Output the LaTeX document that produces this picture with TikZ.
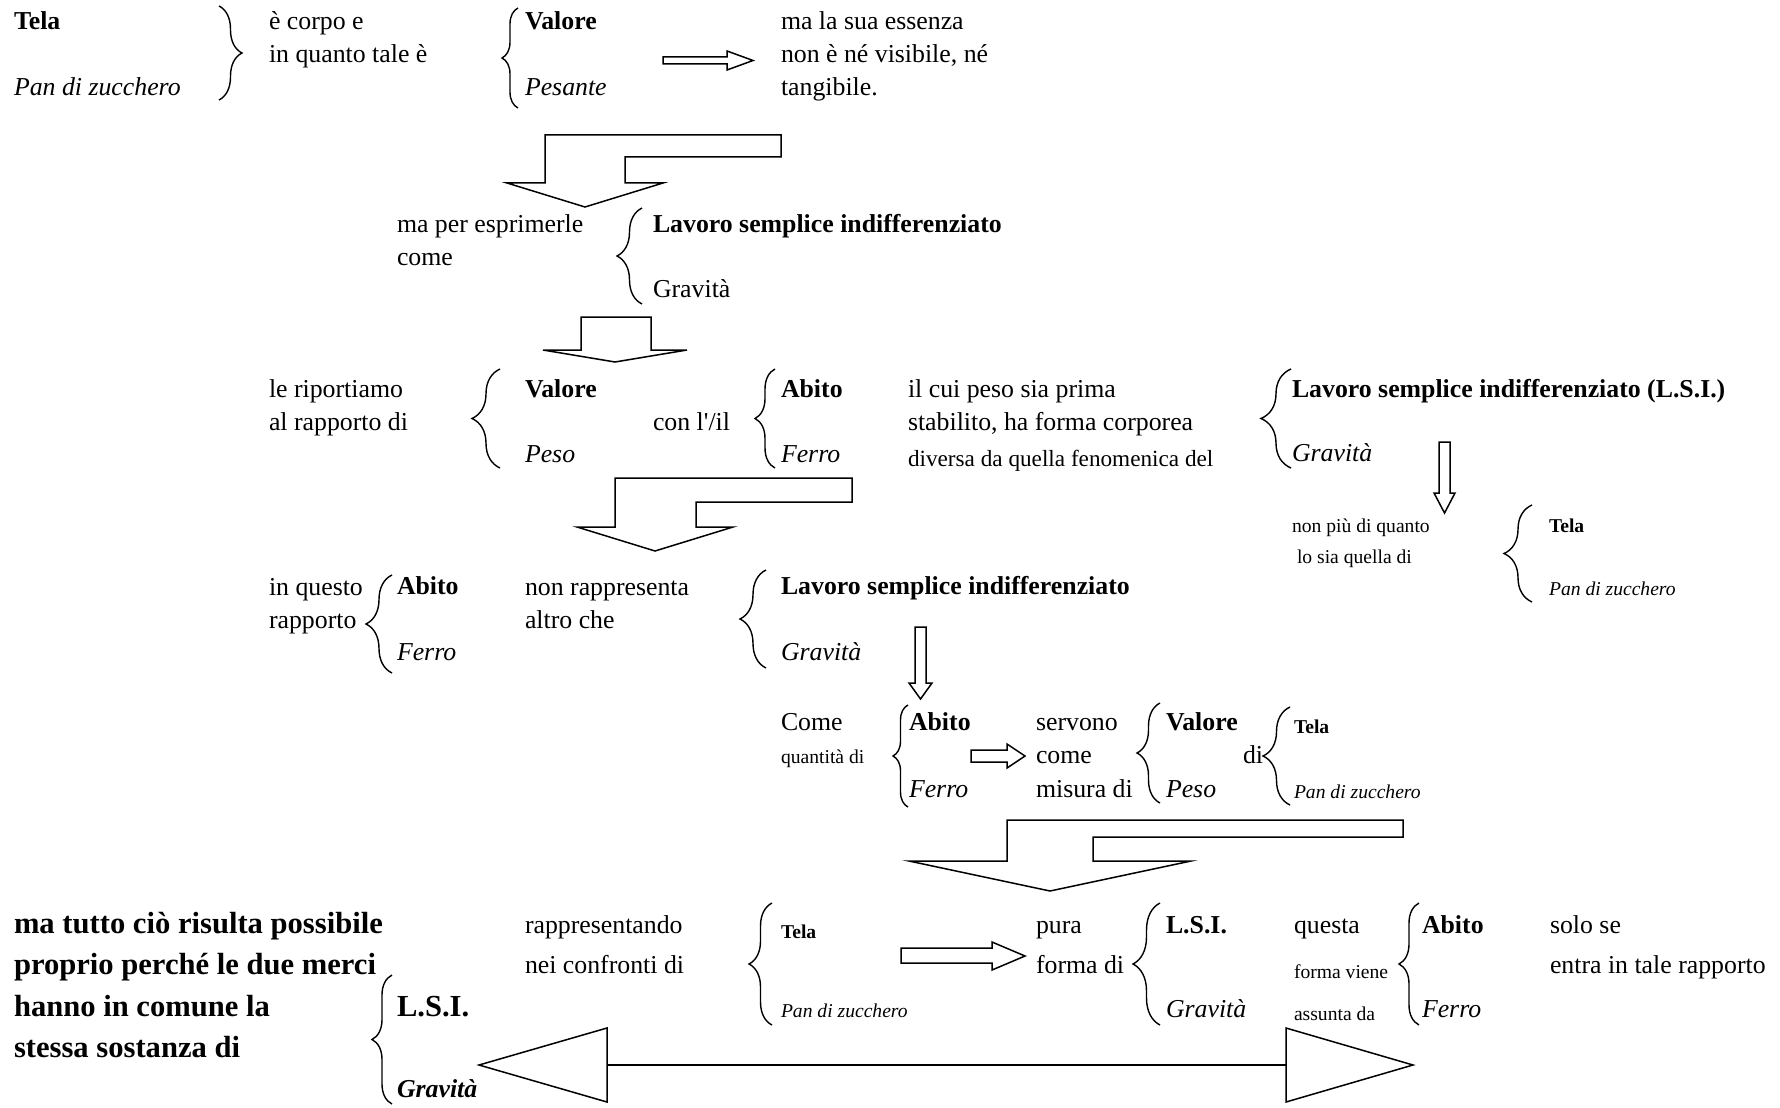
\documentclass[tikz,border=0pt]{standalone}
\usepackage{fontspec}
\setmainfont{Liberation Serif}
\usetikzlibrary{decorations.pathreplacing}
\newcommand{\strapos}{\XeTeXglyph\XeTeXglyphindex "quotesingle"\relax}
\begin{document}
\begin{tikzpicture}[x=0.5pt,y=-0.5pt,
 tbase/.style={anchor=base west, inner sep=0pt, outer sep=0pt},
 txt/.style={tbase, font=\fontsize{12.9}{15}\selectfont},
 txtb/.style={tbase, font=\fontsize{12.9}{15}\selectfont\bfseries},
 txti/.style={tbase, font=\fontsize{12.9}{15}\selectfont\itshape},
 txtbi/.style={tbase, font=\fontsize{12.9}{15}\selectfont\bfseries\itshape},
 txtmid/.style={tbase, font=\fontsize{11.6}{14}\selectfont},
 sm/.style={tbase, font=\fontsize{9.8}{12}\selectfont},
 smb/.style={tbase, font=\fontsize{9.8}{12}\selectfont\bfseries},
 smi/.style={tbase, font=\fontsize{9.8}{12}\selectfont\itshape},
 bigb/.style={tbase, font=\fontsize{15.3}{18}\selectfont\bfseries},
 brc/.style={draw, line width=0.7pt, decorate, decoration={brace, amplitude=#1}},
 blk/.style={draw, fill=white, line width=0.75pt, line join=miter},
]
\useasboundingbox (0,0) rectangle (1780,1107);
\fill[white] (0,0) rectangle (1780,1107);

% Row 1
\node[txtb] (tela1) at (14,30) {Tela};
\node[txti] (pan1) at (14,96) {Pan di zucchero};
\node[txt] (corpo) at (269,30) {è corpo e};
\node[txt] (quanto) at (269,63) {in quanto tale è};
\node[txtb] (valore1) at (525,30) {Valore};
\node[txti] (pesante) at (525,96) {Pesante};
\node[txt] (ess1) at (781,30) {ma la sua essenza};
\node[txt] (ess2) at (781,63) {non è né visibile, né};
\node[txt] (ess3) at (781,96) {tangibile.};
% Row 2
\node[txt] (espr1) at (397,232) {ma per esprimerle};
\node[txt] (espr2) at (397,265) {come};
\node[txtb] (lav1) at (653,232) {Lavoro semplice indifferenziato};
\node[txt] (grav1) at (653,297) {Gravità};
% Row 3
\node[txt] (rip1) at (269,397) {le riportiamo};
\node[txt] (rip2) at (269,430) {al rapporto di};
\node[txtb] (valore2) at (525,397) {Valore};
\node[txti] (peso1) at (525,462) {Peso};
\node[txt] (con) at (653,430) {con l\strapos/il};
\node[txtb] (abito1) at (781,397) {Abito};
\node[txti] (ferro1) at (781,462) {Ferro};
\node[txt] (cui1) at (908,397) {il cui peso sia prima};
\node[txt] (cui2) at (908,430) {stabilito, ha forma corporea};
\node[txtmid] (cui3) at (908,466) {diversa da quella fenomenica del};
\node[txtb] (lav2) at (1292,397) {Lavoro semplice indifferenziato (L.S.I.)};
\node[txti] (grav2) at (1292,461) {Gravità};
\node[sm] (piu1) at (1292,532) {non più di quanto};
\node[sm] (piu2) at (1297,563) {lo sia quella di};
\node[smb] (tela2) at (1549,532) {Tela};
\node[smi] (pan2) at (1549,595) {Pan di zucchero};
% Row 4
\node[txt] (que1) at (269,595) {in questo};
\node[txt] (que2) at (269,628) {rapporto};
\node[txtb] (abito2) at (397,594) {Abito};
\node[txti] (ferro2) at (397,660) {Ferro};
\node[txt] (rap1) at (525,595) {non rappresenta};
\node[txt] (rap2) at (525,628) {altro che};
\node[txtb] (lav3) at (781,594) {Lavoro semplice indifferenziato};
\node[txti] (grav3) at (781,660) {Gravità};
% Row 5
\node[txt] (come1) at (781,730) {Come};
\node[sm] (come2) at (781,763) {quantità di};
\node[txtb] (abito3) at (909,730) {Abito};
\node[txti] (ferro3) at (909,797) {Ferro};
\node[txt] (serv1) at (1036,730) {servono};
\node[txt] (serv2) at (1036,763) {come};
\node[txt] (serv3) at (1036,797) {misura di};
\node[txtb] (valore3) at (1166,730) {Valore};
\node[txti] (peso2) at (1166,797) {Peso};
\node[txt] (di1) at (1243,763) {di};
\node[smb] (tela3) at (1294,733) {Tela};
\node[smi] (pan3) at (1294,798) {Pan di zucchero};
% Row 6
\node[bigb] (tutto1) at (14,933) {ma tutto ciò risulta possibile};
\node[bigb] (tutto2) at (14,974) {proprio perché le due merci};
\node[bigb] (tutto3) at (14,1016) {hanno in comune la};
\node[bigb] (tutto4) at (14,1057) {stessa sostanza di};
\node[bigb] (lsi1) at (397,1016) {L.S.I.};
\node[txtbi] (grav4) at (397,1097) {Gravità};
\node[txt] (rapp1) at (525,933) {rappresentando};
\node[txt] (rapp2) at (525,973) {nei confronti di};
\node[smb] (tela4) at (781,938) {Tela};
\node[smi] (pan4) at (781,1017) {Pan di zucchero};
\node[txt] (pura1) at (1036,933) {pura};
\node[txt] (pura2) at (1036,973) {forma di};
\node[txtb] (lsi2) at (1166,933) {L.S.I.};
\node[txti] (grav5) at (1166,1017) {Gravità};
\node[txt] (questa1) at (1294,933) {questa};
\node[sm] (questa2) at (1294,978) {forma viene};
\node[sm] (questa3) at (1294,1020) {assunta da};
\node[txtb] (abito4) at (1422,933) {Abito};
\node[txti] (ferro4) at (1422,1017) {Ferro};
\node[txt] (solo1) at (1550,933) {solo se};
\node[txt] (solo2) at (1550,973) {entra in tale rapporto};

% Braces
\draw[brc=11.5pt] (219,6) -- (219,100);
\draw[brc=8pt] (518,108) -- (518,8);
\draw[brc=12.5pt] (642,304) -- (642,208);
\draw[brc=14pt] (500,468) -- (500,369);
\draw[brc=10pt] (775,468) -- (775,369);
\draw[brc=15pt] (1291,468) -- (1291,369);
\draw[brc=14pt] (1532,602) -- (1532,505);
\draw[brc=13pt] (392,673) -- (392,575);
\draw[brc=13pt] (766,668) -- (766,570);
\draw[brc=7.5pt] (908,807) -- (908,705);
\draw[brc=11.5pt] (1160,803) -- (1160,703);
\draw[brc=13.5pt] (1290,805) -- (1290,707);
\draw[brc=10pt] (392,1104) -- (392,975);
\draw[brc=11.5pt] (772,1025) -- (772,903);
\draw[brc=13.5pt] (1160,1025) -- (1160,903);
\draw[brc=10pt] (1419,1025) -- (1419,903);

% Block arrows
\draw[blk] (663,57) -- (727,57) -- (727,51) -- (753,60.5) -- (727,70) -- (727,64) -- (663,64) -- cycle;
\draw[blk] (545,135) -- (781,135) -- (781,157) -- (625,157) -- (625,183) -- (663,183) -- (585,207) -- (507,183) -- (545,183) -- cycle;
\draw[blk] (581,317) -- (651,317) -- (651,350) -- (687,350) -- (615,362) -- (543,350) -- (581,350) -- cycle;
\draw[blk] (615,478) -- (852,478) -- (852,502) -- (696,502) -- (696,527) -- (733,527) -- (655,551) -- (577,527) -- (615,527) -- cycle;
\draw[blk] (1439,442) -- (1450,442) -- (1450,493) -- (1455,493) -- (1444.5,513) -- (1434,493) -- (1439,493) -- cycle;
\draw[blk] (915,627) -- (926,627) -- (926,683) -- (932,683) -- (920.5,699) -- (909,683) -- (915,683) -- cycle;
\draw[blk] (971,750) -- (1007,750) -- (1007,744) -- (1025,756) -- (1007,768) -- (1007,762) -- (971,762) -- cycle;
\draw[blk] (1007,820) -- (1403,820) -- (1403,837) -- (1093,837) -- (1093,861) -- (1191,861) -- (1050,891) -- (909,861) -- (1007,861) -- cycle;
\draw[blk] (901,948) -- (992,948) -- (992,942) -- (1025,956) -- (992,970) -- (992,963) -- (901,963) -- cycle;
% double arrow
\coordinate (dl) at (607,1065);
\coordinate (dr) at (1286,1065);
\draw[line width=1.3pt] (dl) -- (dr);
\draw[blk] (479,1065) -- (607,1028) -- (607,1102) -- cycle;
\draw[blk] (1413,1065) -- (1286,1028) -- (1286,1102) -- cycle;
\end{tikzpicture}
\end{document}
